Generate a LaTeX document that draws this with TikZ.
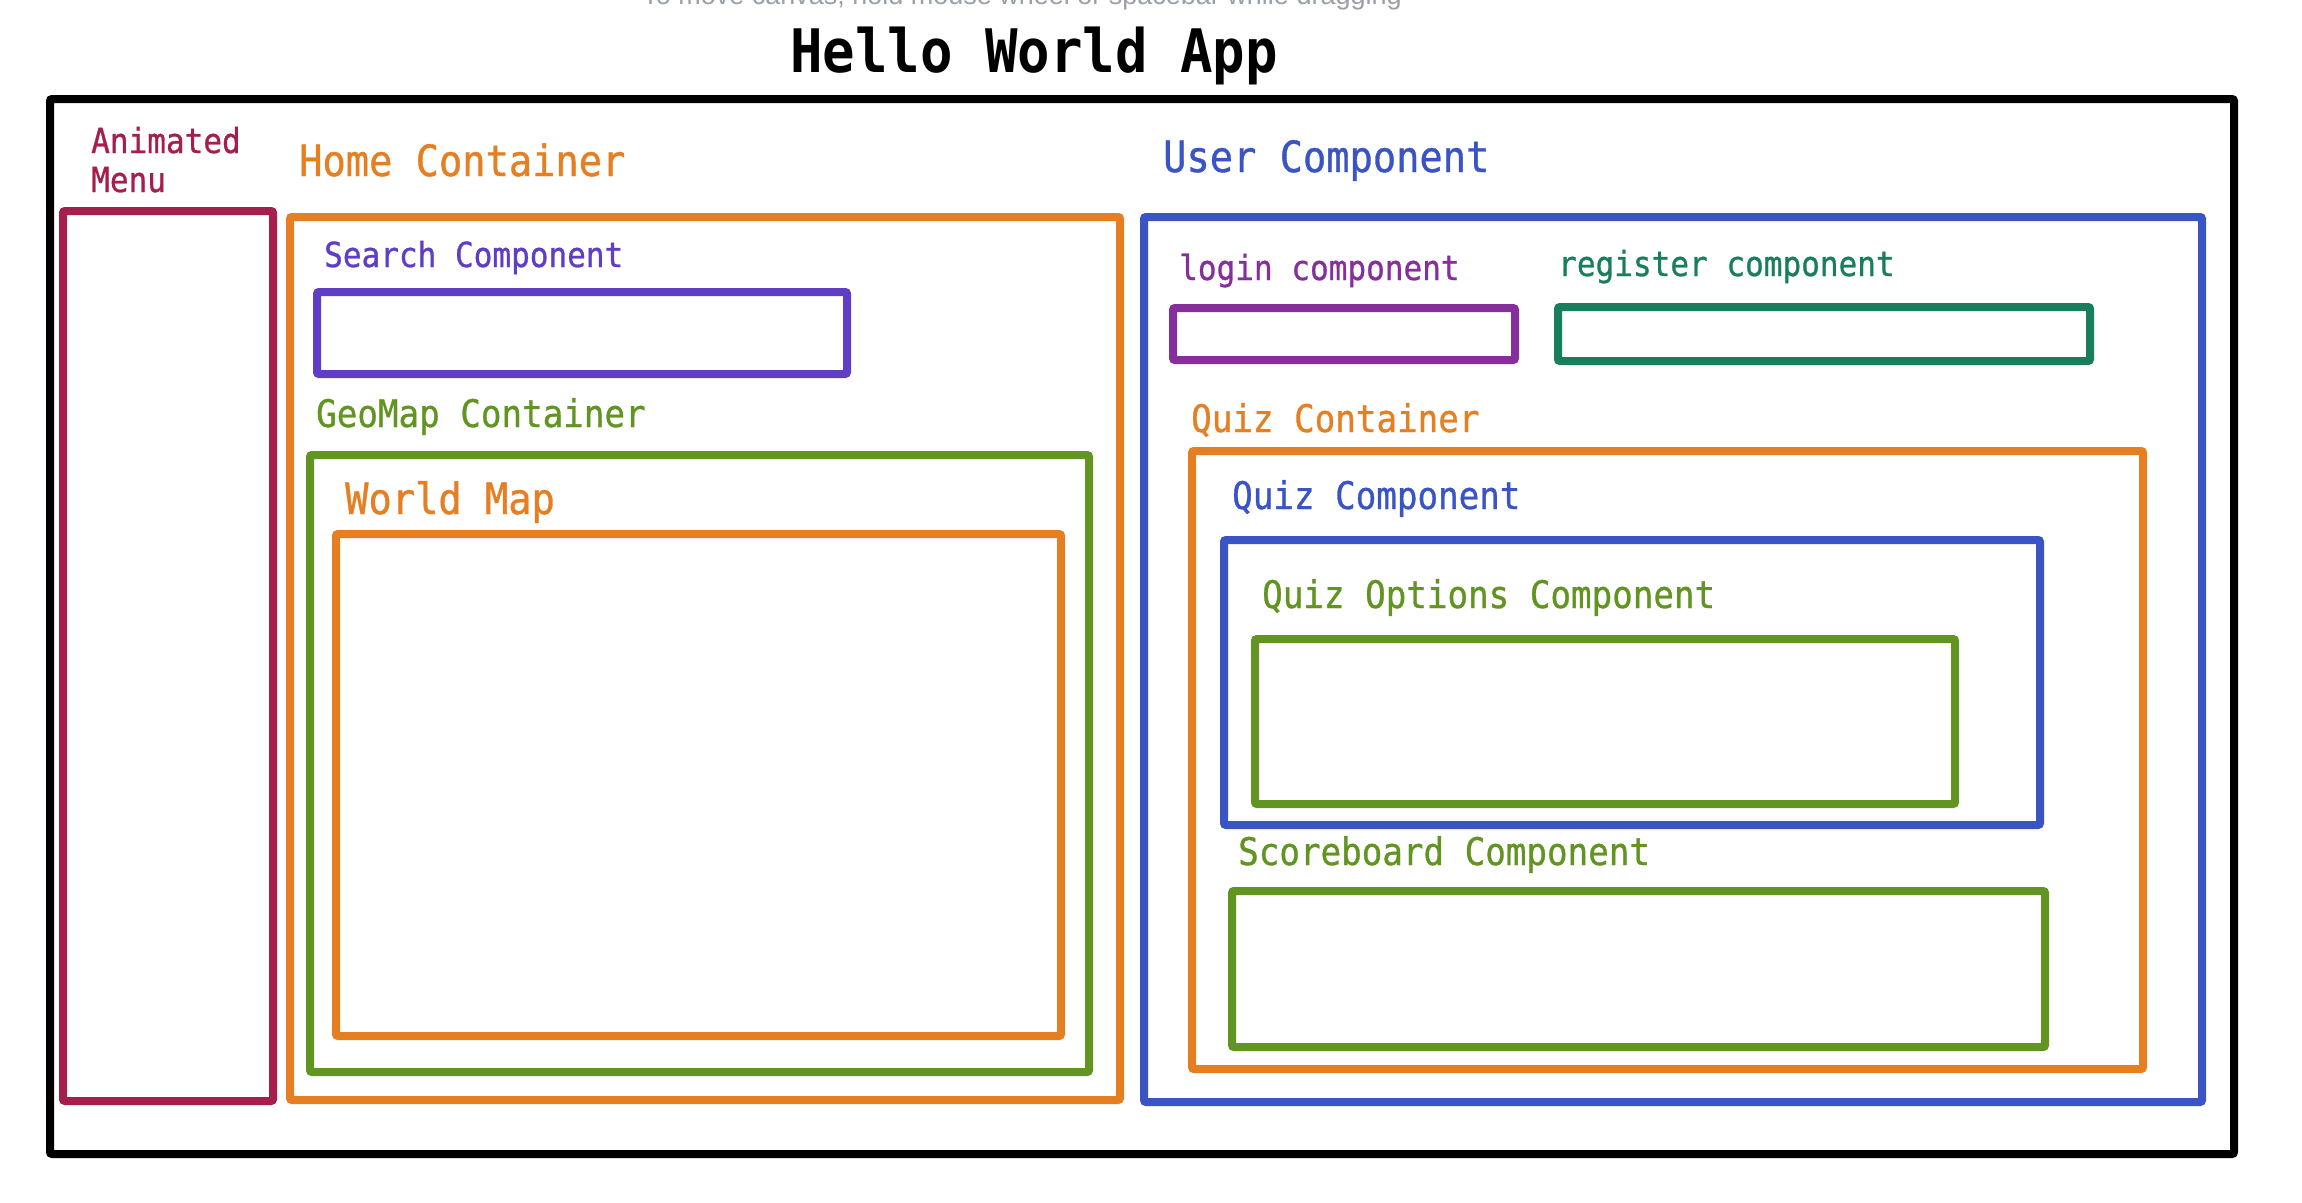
\documentclass[tikz,border=0pt]{standalone}
\usepackage{fontspec}
\newfontfamily\mono[FakeStretch=0.9,FakeBold=0.8]{DejaVu Sans Mono}
\newfontfamily\monotitle[FakeStretch=0.9]{DejaVu Sans Mono Bold}
\newfontfamily\hintfont{Liberation Sans}
\definecolor{cblack}{HTML}{000000}
\definecolor{ccrimson}{HTML}{A61E4D}
\definecolor{corange}{HTML}{E67E22}
\definecolor{cviolet}{HTML}{5F3DC4}
\definecolor{clime}{HTML}{619421}
\definecolor{cindigo}{HTML}{3A54C6}
\definecolor{cgrape}{HTML}{862E9C}
\definecolor{cteal}{HTML}{187E5C}
\definecolor{chint}{HTML}{9AA0A6}
\newcommand\bx[7]{\node[frame, draw=#2, line width=#7pt, minimum width={#5pt-#3pt}, minimum height={#6pt-#4pt}] (#1) at (#3,#4) {};}
\begin{document}
\begin{tikzpicture}[x=1pt,y=-1pt,
  frame/.style={inner sep=0pt, outer sep=0pt, anchor=north west, rounded corners=2pt},
  lbl/.style={inner sep=0pt, anchor=base west, font=\mono},
  xl/.style={lbl, font=\mono\fontsize{43}{48}\selectfont},
  ml/.style={lbl, font=\mono\fontsize{38}{43}\selectfont},
  sl/.style={lbl, font=\mono\fontsize{34.5}{40}\selectfont}]
\useasboundingbox (0,0) rectangle (2302,1202);
\fill[white] (0,0) rectangle (2302,1202);
% hint and title
\node[inner sep=0pt, anchor=base, text=chint, font=\hintfont\fontsize{27}{30}\selectfont] (hint) at (1022,4) {To move canvas, hold mouse wheel or spacebar while dragging};
\node[inner sep=0pt, anchor=base, font=\monotitle\fontsize{60}{66}\selectfont] (title) at (1034,72) {Hello World App};
% boxes
\bx{app}{cblack}{50}{99}{2234}{1154}{8}
\bx{menu}{ccrimson}{63}{211}{273}{1101}{8}
\bx{home}{corange}{290}{217}{1120}{1100}{8}
\bx{search}{cviolet}{317}{292}{847}{374}{8}
\bx{geomap}{clime}{310}{455}{1089}{1072}{8}
\bx{worldmap}{corange}{336}{534}{1061}{1036}{8}
\bx{user}{cindigo}{1144}{217}{2202}{1102}{8}
\bx{login}{cgrape}{1173}{308}{1515}{360}{8}
\bx{register}{cteal}{1558}{307}{2090}{361}{8}
\bx{quizcont}{corange}{1192}{451}{2143}{1069}{8}
\bx{quizcomp}{cindigo}{1224}{540}{2040}{825}{8}
\bx{quizopt}{clime}{1255}{639}{1955}{804}{8}
\bx{score}{clime}{1232}{891}{2045}{1047}{8}
% labels
\node[sl, text=ccrimson] (menuA) at (91,153) {Animated};
\node[sl, text=ccrimson] (menuB) at (91,192) {Menu};
\node[xl, text=corange] (homeL) at (299,176) {Home Container};
\node[sl, text=cviolet] (searchL) at (324,267) {Search Component};
\node[ml, text=clime] (geomapL) at (316,427) {GeoMap Container};
\node[xl, text=corange] (worldmapL) at (345,514) {World Map};
\node[xl, text=cindigo] (userL) at (1163,172) {User Component};
\node[sl, text=cgrape] (loginL) at (1179,280) {login component};
\node[sl, text=cteal] (registerL) at (1558,276) {register component};
\node[ml, text=corange] (quizcontL) at (1191,432) {Quiz Container};
\node[ml, text=cindigo] (quizcompL) at (1232,509) {Quiz Component};
\node[ml, text=clime] (quizoptL) at (1262,608) {Quiz Options Component};
\node[ml, text=clime] (scoreL) at (1238,865) {Scoreboard Component};
\end{tikzpicture}
\end{document}
